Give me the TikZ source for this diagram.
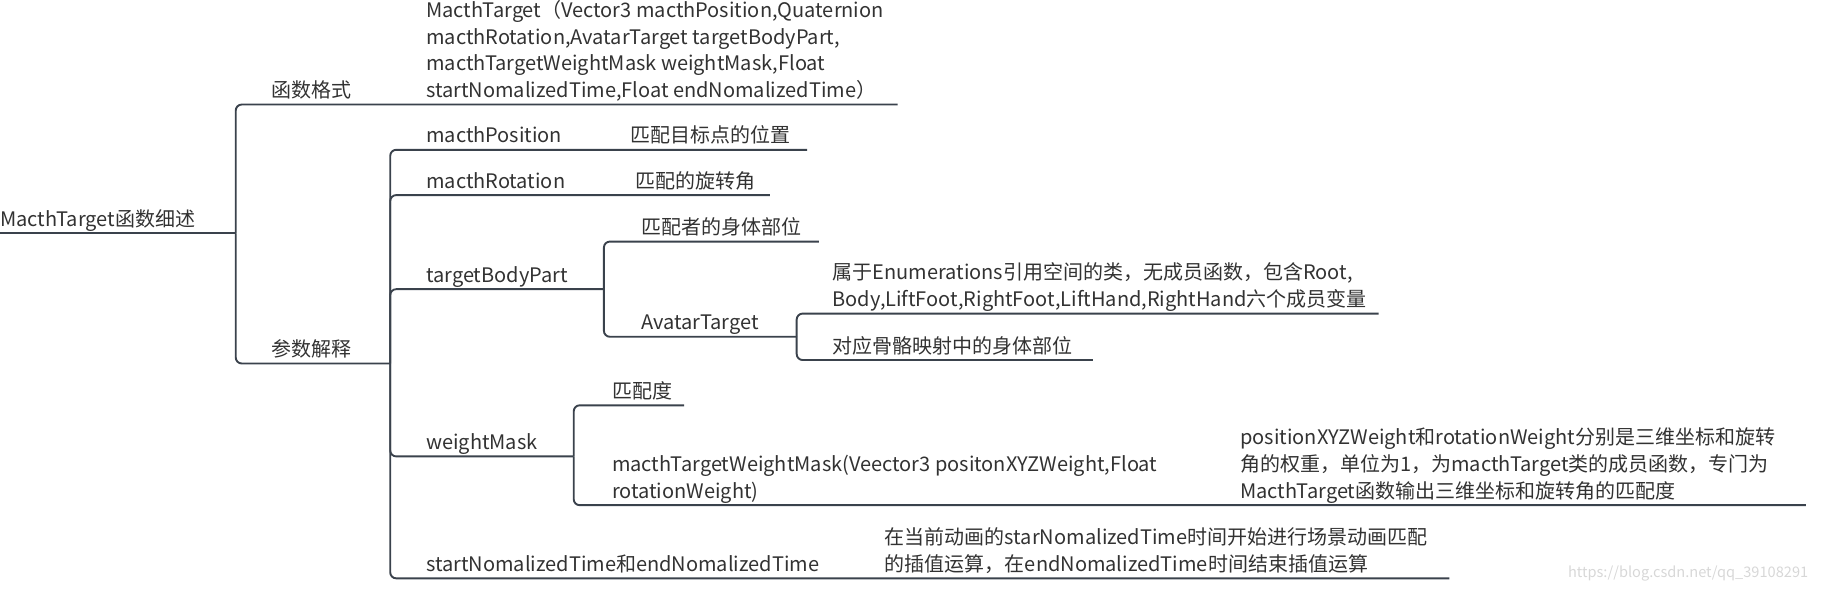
\documentclass[tikz,border=0pt]{standalone}
\usepackage{fontspec}
\setmainfont{Noto Sans CJK SC}
\definecolor{linec}{RGB}{58,66,76}
\definecolor{txt}{RGB}{50,50,50}
\definecolor{wmark}{RGB}{215,215,215}
\newcommand\lastd{\rule[-7pt]{0pt}{7pt}}
\begin{document}
\begin{tikzpicture}[x=1.1614pt,y=-1.1614pt,
  lbl/.style={anchor=south west,inner sep=0pt,outer sep=0pt,text=txt,align=left,font=\fontsize{20pt}{26.7pt}\selectfont},
  link/.style={draw=linec,line width=1.9pt,rounded corners=6pt}]
\useasboundingbox (0,0) rectangle (1568,509);
\node[lbl] (root) at (0,201) {MacthTarget函数细述\lastd};
\node[lbl] (fmt) at (234,90) {函数格式\lastd};
\node[lbl] (fmtv) at (367,90) {MacthTarget（Vector3 macthPosition,Quaternion\\macthRotation,AvatarTarget targetBodyPart,\\macthTargetWeightMask weightMask,Float\\startNomalizedTime,Float endNomalizedTime）\lastd};
\node[lbl] (par) at (234,313) {参数解释\lastd};
\node[lbl] (pos) at (367,129) {macthPosition\lastd};
\node[lbl] (posv) at (543,129) {匹配目标点的位置\lastd};
\node[lbl] (rot) at (367,168) {macthRotation\lastd};
\node[lbl] (rotv) at (547,168) {匹配的旋转角\lastd};
\node[lbl] (tbp) at (367,249) {targetBodyPart\lastd};
\node[lbl] (tbpv) at (552,208) {匹配者的身体部位\lastd};
\node[lbl] (av) at (552,290) {AvatarTarget\lastd};
\node[lbl] (avenum) at (717,270) {属于Enumerations引用空间的类，无成员函数，包含Root,\\Body,LiftFoot,RightFoot,LiftHand,RightHand六个成员变量\lastd};
\node[lbl] (avmap) at (717,310) {对应骨骼映射中的身体部位\lastd};
\node[lbl] (wm) at (367,393) {weightMask\lastd};
\node[lbl] (wmv) at (527,349) {匹配度\lastd};
\node[lbl] (wmf) at (527,435) {macthTargetWeightMask(Veector3 positonXYZWeight,Float\\rotationWeight)\lastd};
\node[lbl] (wmfv) at (1068,435) {positionXYZWeight和rotationWeight分别是三维坐标和旋转\\角的权重，单位为1，为macthTarget类的成员函数，专门为\\MacthTarget函数输出三维坐标和旋转角的匹配度\lastd};
\node[lbl] (time) at (367,498) {startNomalizedTime和endNomalizedTime\lastd};
\node[lbl] (timev) at (762,498) {在当前动画的starNomalizedTime时间开始进行场景动画匹配\\的插值运算，在endNomalizedTime时间结束插值运算\lastd};
\node[anchor=base west,inner sep=0pt,text=wmark,font=\fontsize{14.6pt}{16pt}\selectfont] (mark) at (1350,497) {https://blog.csdn.net/qq\_39108291};
\coordinate (j0) at (203,201);
\coordinate (fmtE) at (773,90);
\coordinate (j1) at (336,313);
\coordinate (posE) at (695,129);
\coordinate (rotE) at (663,168);
\coordinate (j2) at (520,249);
\coordinate (tbpvE) at (705,208);
\coordinate (j3) at (686,290);
\coordinate (enumE) at (1187,270);
\coordinate (mapE) at (941,310);
\coordinate (j4) at (494,393);
\coordinate (wmvE) at (589,349);
\coordinate (wmfE) at (1555,435);
\coordinate (timeE) at (1248,498);
\draw[link] (root.south west) -- (j0);
\draw[link] (j0) |- (fmtE);
\draw[link] (j0) |- (j1);
\draw[link] (j1) |- (posE);
\draw[link] (j1) |- (rotE);
\draw[link] (j1) |- (j2);
\draw[link] (j2) |- (tbpvE);
\draw[link] (j2) |- (j3);
\draw[link] (j3) |- (enumE);
\draw[link] (j3) |- (mapE);
\draw[link] (j1) |- (j4);
\draw[link] (j4) |- (wmvE);
\draw[link] (j4) |- (wmfE);
\draw[link] (j1) |- (timeE);
\end{tikzpicture}
\end{document}
